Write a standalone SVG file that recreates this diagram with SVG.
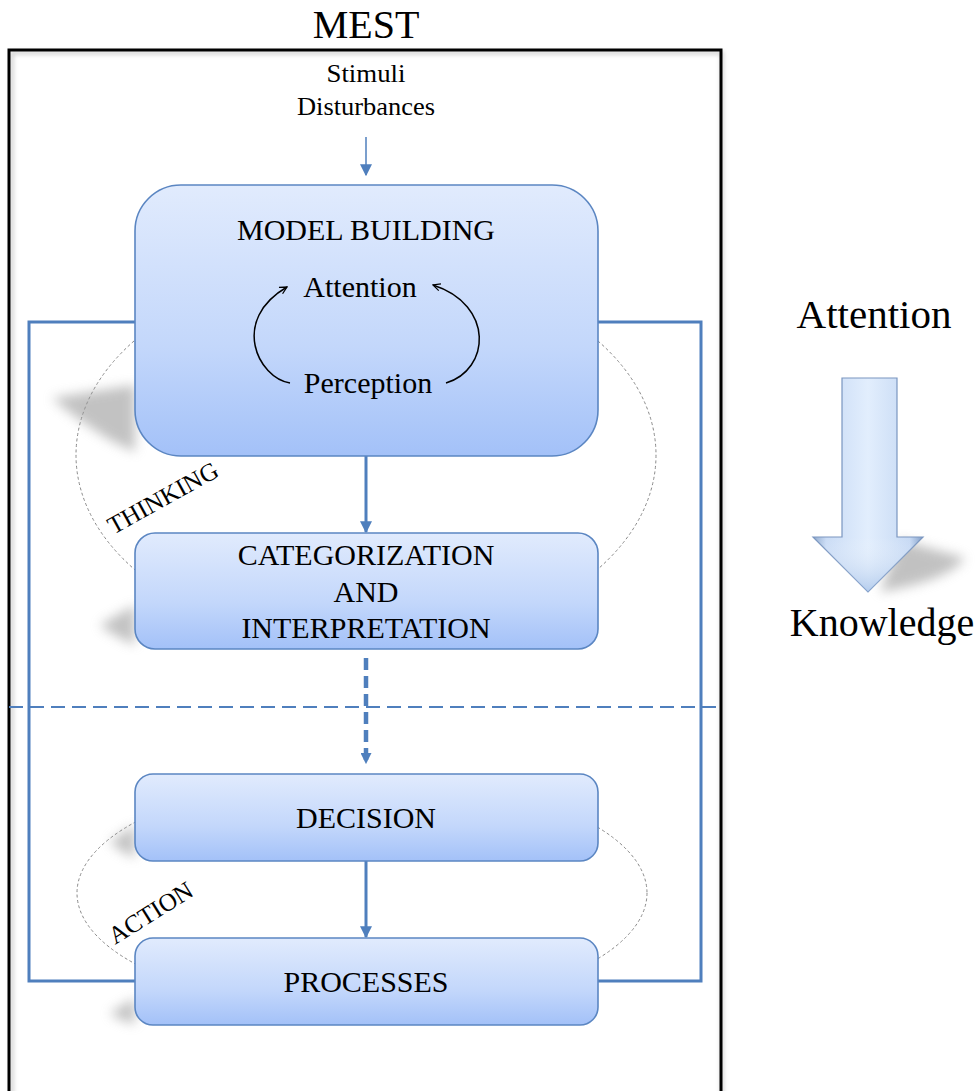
<svg xmlns="http://www.w3.org/2000/svg" width="978" height="1091" viewBox="0 0 978 1091">
<style>
.t{font-family:"Liberation Serif","Times New Roman",serif;fill:#000}
.box{stroke:#5b86c2;stroke-width:1.6;fill:url(#g)}
.ell{fill:none;stroke:#8a8a8a;stroke-width:1;stroke-dasharray:3 2.5}
.conn{stroke:#4f7fbd;stroke-width:3;fill:none}
.sh{fill:#9a9a9a;opacity:0.6;filter:url(#blur)}
</style>
<defs>
<linearGradient id="g" x1="0" y1="0" x2="0" y2="1">
<stop offset="0" stop-color="#e1ebfd"/>
<stop offset="0.6" stop-color="#c3d7fb"/>
<stop offset="1" stop-color="#a3c1f8"/>
</linearGradient>
<linearGradient id="ag" x1="0" y1="0" x2="1" y2="0">
<stop offset="0" stop-color="#8ea8cc"/>
<stop offset="0.12" stop-color="#c9dbf5"/>
<stop offset="0.5" stop-color="#e2eefd"/>
<stop offset="0.88" stop-color="#c6d9f4"/>
<stop offset="1" stop-color="#7f9cc6"/>
</linearGradient>
<linearGradient id="ag2" x1="0" y1="0" x2="0" y2="1">
<stop offset="0" stop-color="#ffffff" stop-opacity="0"/>
<stop offset="1" stop-color="#9fbde6" stop-opacity="0.7"/>
</linearGradient>
<filter id="blur" x="-50%" y="-50%" width="200%" height="200%"><feGaussianBlur stdDeviation="6"/></filter>
<filter id="blur2" x="-50%" y="-50%" width="200%" height="200%"><feGaussianBlur stdDeviation="2"/></filter>
<marker id="ah" viewBox="0 0 10 10" refX="9" refY="5" markerWidth="4" markerHeight="4" orient="auto" markerUnits="strokeWidth">
<path d="M0,0 L10,5 L0,10 z" fill="#4f7fbd"/>
</marker>
<marker id="ahd" viewBox="0 0 10 10" refX="9" refY="5" markerWidth="11" markerHeight="11" orient="auto" markerUnits="userSpaceOnUse">
<path d="M0,0 L10,5 L0,10 z" fill="#4f7fbd"/>
</marker>
<marker id="ahs" viewBox="0 0 10 10" refX="9" refY="5" markerWidth="8" markerHeight="8" orient="auto" markerUnits="strokeWidth">
<path d="M0,0 L10,5 L0,10 z" fill="#4f7fbd"/>
</marker>
<marker id="open" viewBox="0 0 10 10" refX="9" refY="5" markerWidth="9" markerHeight="9" orient="auto" markerUnits="userSpaceOnUse">
<path d="M1,1 L9,5 L1,9" fill="none" stroke="#000" stroke-width="1.4"/>
</marker>
</defs>

<rect width="978" height="1091" fill="#fff"/>

<g id="mest-frame">
<rect x="12" y="53" width="710" height="1050" fill="none" stroke="#c8c8c8" stroke-width="3" filter="url(#blur2)"/>
<rect x="9" y="50" width="712" height="1060" fill="none" stroke="#000" stroke-width="3"/>
<text class="t" x="366" y="38" font-size="40" text-anchor="middle">MEST</text>
</g>

<g id="stimuli">
<text class="t" x="366" y="82" font-size="26" text-anchor="middle" textLength="79" lengthAdjust="spacingAndGlyphs">Stimuli</text>
<text class="t" x="366" y="115" font-size="26" text-anchor="middle" textLength="138" lengthAdjust="spacingAndGlyphs">Disturbances</text>
</g>

<g id="ellipses">
<ellipse class="ell" cx="366" cy="455" rx="290" ry="190"/>
<ellipse class="ell" cx="362" cy="893" rx="285" ry="117"/>
</g>

<g id="shadows">
<path class="sh" d="M135,385 L52,398 Q75,418 110,440 L135,452 Z"/>
<path class="sh" d="M135,605 L100,625 Q112,635 135,645 Z"/>
<path class="sh" d="M135,825 L110,842 Q118,850 135,858 Z"/>
<path class="sh" d="M135,998 L110,1013 Q118,1020 135,1024 Z"/>
</g>

<g id="connectors">
<polyline points="135,322 29,322 29,981 135,981" class="conn"/>
<polyline points="598,322 701,322 701,981 598,981" class="conn"/>
<line x1="9" y1="707" x2="721" y2="707" stroke="#4f7fbd" stroke-width="2" stroke-dasharray="14 7"/>
<line x1="366" y1="137" x2="366" y2="175" stroke="#4f7fbd" stroke-width="1.5" marker-end="url(#ahs)"/>
<line x1="366" y1="456" x2="366" y2="532" class="conn" marker-end="url(#ah)"/>
<line x1="366" y1="658" x2="366" y2="763" style="stroke:#4f7fbd;stroke-width:4.5;stroke-dasharray:12 6;fill:none" marker-end="url(#ahd)"/>
<line x1="366" y1="861" x2="366" y2="937" class="conn" marker-end="url(#ah)"/>
</g>

<g id="model-building">
<rect class="box" x="135" y="185" width="463" height="271" rx="46" ry="46"/>
<text class="t" x="366" y="240" font-size="30" text-anchor="middle">MODEL BUILDING</text>
<text class="t" x="360" y="297" font-size="30" text-anchor="middle">Attention</text>
<text class="t" x="368" y="393" font-size="30" text-anchor="middle">Perception</text>
<path d="M290,383 C258,378 230,320 287,287" fill="none" stroke="#000" stroke-width="1.5" marker-end="url(#open)"/>
<path d="M446,383 C490,370 495,305 433,285" fill="none" stroke="#000" stroke-width="1.5" marker-end="url(#open)"/>
</g>

<g id="categorization">
<rect class="box" x="135" y="533" width="463" height="116" rx="20" ry="20"/>
<text class="t" x="366" y="565" font-size="30" text-anchor="middle">CATEGORIZATION</text>
<text class="t" x="366" y="602" font-size="30" text-anchor="middle">AND</text>
<text class="t" x="366" y="638" font-size="30" text-anchor="middle">INTERPRETATION</text>
</g>

<g id="decision">
<rect class="box" x="135" y="774" width="463" height="87" rx="18" ry="18"/>
<text class="t" x="366" y="828" font-size="30" text-anchor="middle">DECISION</text>
</g>

<g id="processes">
<rect class="box" x="135" y="938" width="463" height="87" rx="18" ry="18"/>
<text class="t" x="366" y="992" font-size="30" text-anchor="middle">PROCESSES</text>
</g>

<g id="labels">
<text class="t" x="167" y="505" font-size="25" text-anchor="middle" transform="rotate(-29 167 505)">THINKING</text>
<text class="t" x="155" y="920" font-size="25" text-anchor="middle" transform="rotate(-32 155 920)">ACTION</text>
</g>

<g id="attention-knowledge">
<text class="t" x="874" y="328" font-size="41" text-anchor="middle">Attention</text>
<path d="M900,540 L965,558 Q950,580 880,592 Z" fill="#999" opacity="0.6" filter="url(#blur)"/>
<path d="M842,378 L897,378 L897,537 L923,537 L868,592 L813,537 L842,537 Z" fill="url(#ag)" stroke="#7a96c0" stroke-width="1.2"/>
<path d="M813,537 L923,537 L868,592 Z" fill="url(#ag2)"/>
<text class="t" x="882" y="636" font-size="40" text-anchor="middle">Knowledge</text>
</g>
</svg>
